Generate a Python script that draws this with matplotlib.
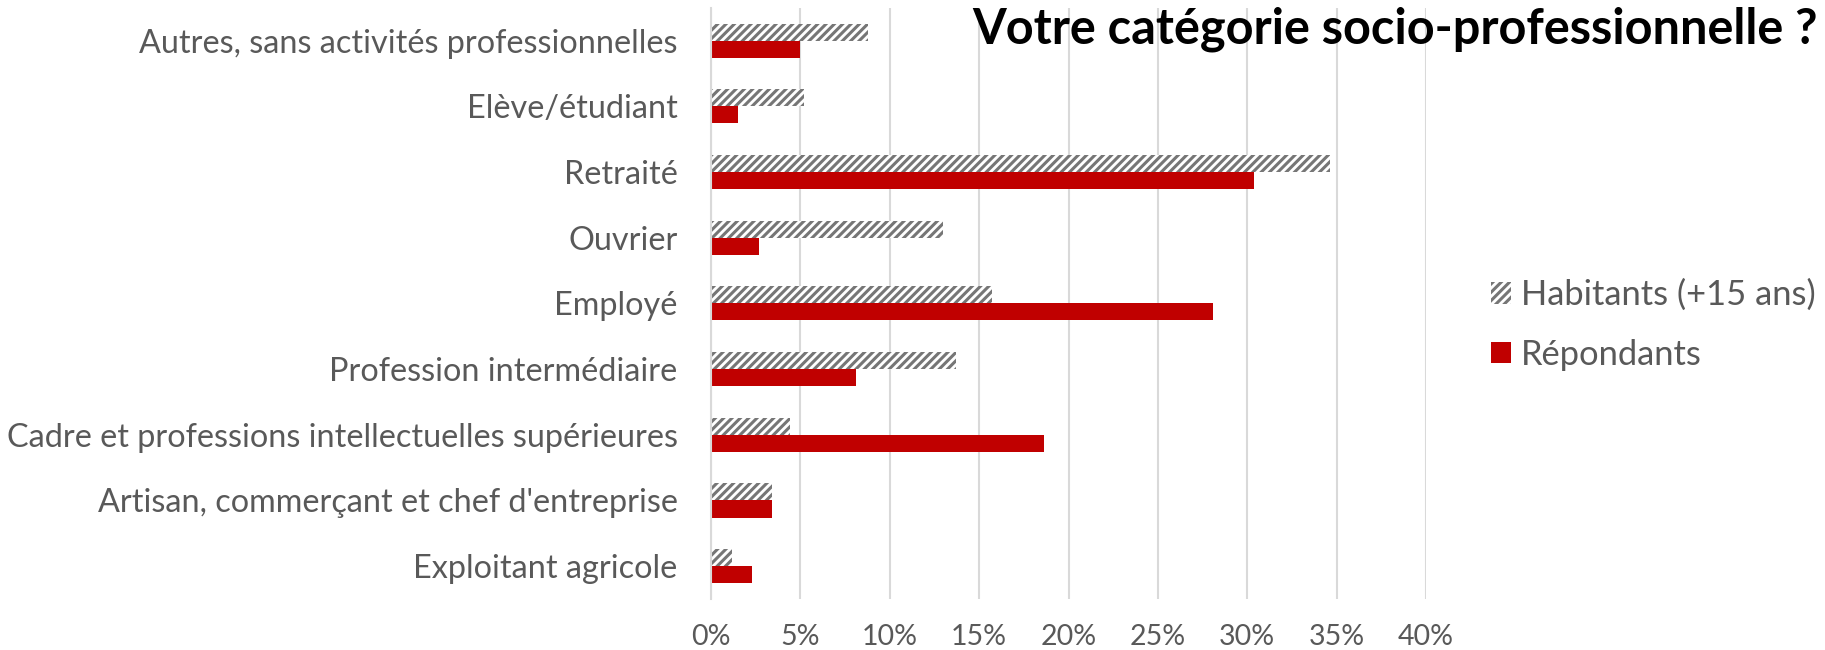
import matplotlib
matplotlib.use("Agg")
import matplotlib.pyplot as plt
import numpy as np
from matplotlib.ticker import PercentFormatter, MultipleLocator

# data (bottom -> top, as drawn)
categories = ["Exploitant agricole",
              "Artisan, commerçant et chef d'entreprise",
              "Cadre et professions intellectuelles supérieures",
              "Profession intermédiaire",
              "Employé",
              "Ouvrier",
              "Retraité",
              "Elève/étudiant",
              "Autres, sans activités professionnelles"]
habitants = [1.2, 3.4, 4.4, 13.7, 15.7, 13.0, 34.6, 5.2, 8.8]
repondants = [2.3, 3.4, 18.6, 8.1, 28.1, 2.7, 30.4, 1.5, 5.0]

RED = "#c00000"
HATCH = "#767676"
GRID = "#d9d9d9"
LABEL = "#595959"

plt.rcParams["font.family"] = ["Lato", "DejaVu Sans"]
plt.rcParams["hatch.linewidth"] = 2.2

fig = plt.figure(figsize=(18.25, 6.5), dpi=100)
ax = fig.add_axes([0.3896, 0.0785, 0.3918, 0.9095])

y = np.arange(len(categories))
h = 0.26
ax.barh(y + h / 2, habitants, height=h, color="white", edgecolor=HATCH,
        hatch="////", lw=0, label="Habitants (+15 ans)", zorder=2)
ax.barh(y - h / 2, repondants, height=h, color=RED, lw=0,
        label="Répondants", zorder=2)

ax.set_xlim(0, 40)
ax.set_ylim(-0.5, len(categories) - 0.5)
ax.xaxis.set_major_locator(MultipleLocator(5))
ax.xaxis.set_major_formatter(PercentFormatter(decimals=0))
ax.grid(axis="x", color=GRID, lw=1.5, zorder=0)
ax.set_yticks(y)
ax.set_yticklabels(categories)
ax.tick_params(axis="y", length=0, labelcolor=LABEL, labelsize=23.3, pad=24)
ax.tick_params(axis="x", length=0, labelcolor=LABEL, labelsize=20.5, pad=18)
for s in ["top", "right", "bottom"]:
    ax.spines[s].set_visible(False)
ax.spines["left"].set_color(GRID)
ax.spines["left"].set_linewidth(1.5)

fig.text(0.996, 0.955, "Votre catégorie socio-professionnelle ?",
         fontsize=35, fontweight="bold", color="black", ha="right", va="center")

leg = fig.legend(loc="center left", bbox_to_anchor=(0.8, 0.5),
                 frameon=False, fontsize=24.8, labelcolor=LABEL,
                 handlelength=0.58, handleheight=0.58, handletextpad=0.3,
                 labelspacing=0.8)

fig.savefig("out.png", dpi=100, facecolor="white")
